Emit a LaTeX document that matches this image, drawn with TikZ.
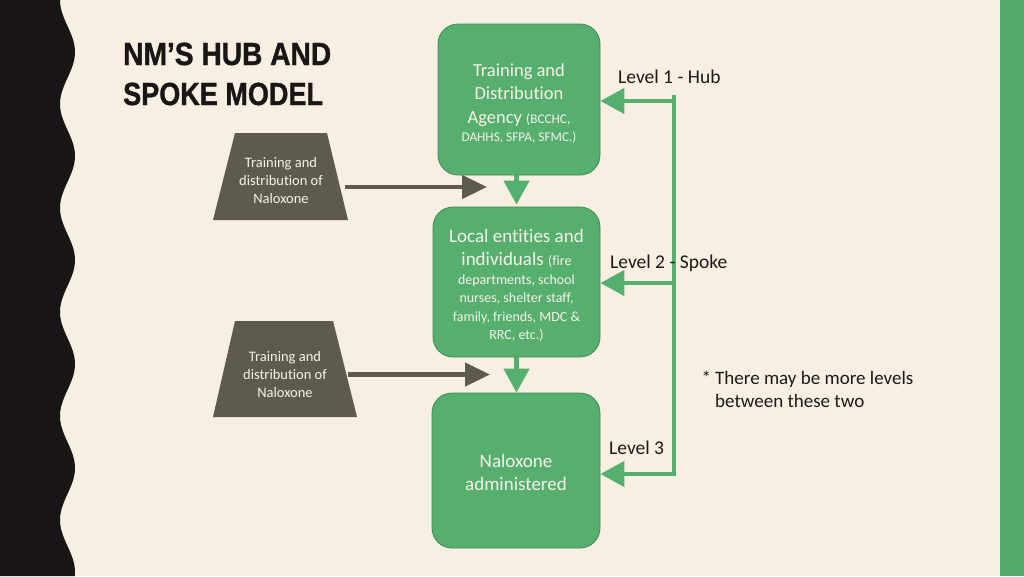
\documentclass[tikz,border=0pt]{standalone}
\usepackage{fontspec}
\setmainfont{Carlito}[Ligatures={NoCommon}]
\newfontfamily\titlefont{Liberation Sans Bold}[FakeBold=1.2]
\usetikzlibrary{arrows.meta}
\definecolor{bgc}{HTML}{F7EFE2}
\definecolor{darkc}{HTML}{1A1616}
\definecolor{gfill}{HTML}{56AE6F}
\definecolor{gedge}{HTML}{3F8A55}
\definecolor{gconn}{HTML}{55AF6E}
\definecolor{barc}{HTML}{52AA6B}
\definecolor{trapc}{HTML}{5E5A4F}
\definecolor{lighttext}{HTML}{F6F2E8}
\definecolor{inkc}{HTML}{1C1A18}
\newcommand{\agsmall}{\fontsize{13.3}{16}\selectfont}
\newcommand{\lesmall}{\fontsize{14}{17}\selectfont}
\begin{document}
\begin{tikzpicture}[x=1pt,y=-1pt,
  gbox/.style={draw=gedge, line width=0.8pt, fill=gfill, rounded corners=20pt,
    inner sep=0pt, align=center, text=lighttext},
  traptext/.style={inner sep=0pt, align=center, text=lighttext,
    font=\fontsize{14.5}{18}\selectfont},
  lvl/.style={inner sep=0pt, anchor=base west, text=inkc,
    font=\fontsize{19.5}{23}\selectfont},
  titletext/.style={inner sep=0pt, anchor=base west, text=darkc,
    font=\titlefont\fontsize{32}{32}\selectfont},
  garrow/.style={draw=gconn, line width=4.5pt, line join=miter,
    -{Triangle[width=25pt,length=24pt]}},
  grayarrow/.style={draw=trapc, line width=4.3pt,
    -{Triangle[width=23pt,length=25pt]}}
]
\useasboundingbox (0,0) rectangle (1024,576);
% background
\fill[bgc] (0,0) rectangle (1024,576);
\fill[darkc] (0,0) -- plot[domain=0:576,samples=240,variable=\t]
  ({67.5-7.5*cos(3.461538*\t)},\t) -- (0,576) -- cycle;
\fill[barc] (1000,0) rectangle (1024,576);

% title
\node[titletext] (title1) at (123,65) {\scalebox{0.88}[1]{NM’S HUB AND}};
\node[titletext] (title2) at (123,105) {\scalebox{0.845}[1]{SPOKE MODEL}};

% green boxes
\node[gbox, minimum width=162, minimum height=151,
  font=\fontsize{18.5}{23.5}\selectfont] (b1) at (519,99.5)
  {\rule{0pt}{20pt}Training and\\Distribution\\Agency {\agsmall (BCCHC,}\\[-5.5pt]
   {\agsmall DAHHS, SFPA, SFMC.)}};
\node[gbox, minimum width=167, minimum height=150,
  font=\fontsize{19}{23}\selectfont] (b2) at (516.5,282)
  {\rule{0pt}{20.5pt}Local entities and\\individuals {\lesmall (fire}\\[-4.5pt]
   {\lesmall departments, school}\\[-4.5pt]
   {\lesmall nurses, shelter staff,}\\[-4.5pt]
   {\lesmall family, friends, MDC \&}\\[-4.5pt]
   {\lesmall RRC, etc.)}};
\node[gbox, minimum width=168, minimum height=155,
  font=\fontsize{19}{23}\selectfont] (b3) at (516,470.5)
  {\rule{0pt}{18pt}Naloxone\\administered};

% trapezoids
\fill[trapc] (213,220) -- (235,133) -- (327,133) -- (348,220) -- cycle;
\fill[trapc] (213,417) -- (235,321) -- (333,321) -- (357,417) -- cycle;
\node[traptext] (tr1) at (281,181) {Training and\\distribution of\\Naloxone};
\node[traptext] (tr2) at (285,375) {Training and\\distribution of\\Naloxone};

% gray arrows
\coordinate (g1s) at (345,187);
\coordinate (g1e) at (487,187);
\coordinate (g2s) at (348,374.5);
\coordinate (g2e) at (490,374.5);
\draw[grayarrow] (g1s) -- (g1e);
\draw[grayarrow] (g2s) -- (g2e);

% down arrows
\draw[garrow] (b2.north |- b1.south) -- ([yshift=2pt]b2.north);
\draw[garrow] (b2.south) -- (b2.south |- b3.north);

% level connector
\coordinate (jtop) at (674,95);
\coordinate (j1) at (674,101);
\coordinate (j2) at (674,283);
\coordinate (j3) at (674,474);
\draw[garrow] (jtop) -- (j3) -- (j3 -| b3.east);
\draw[garrow] (j1) -- (j1 -| b1.east);
\draw[garrow] (j2) -- (j2 -| b2.east);

% labels
\node[lvl] (l1) at (618,83) {Level 1 - Hub};
\node[lvl] (l2) at (610,268) {Level 2 - Spoke};
\node[lvl] (l3) at (609,454) {Level 3};
\node[inner sep=0pt, anchor=north west, align=left, text=inkc,
  font=\fontsize{19}{23}\selectfont] (note) at (715,370.5)
  {\llap{*\hspace{4pt}}There may be more levels\\between these two};
\end{tikzpicture}
\end{document}
